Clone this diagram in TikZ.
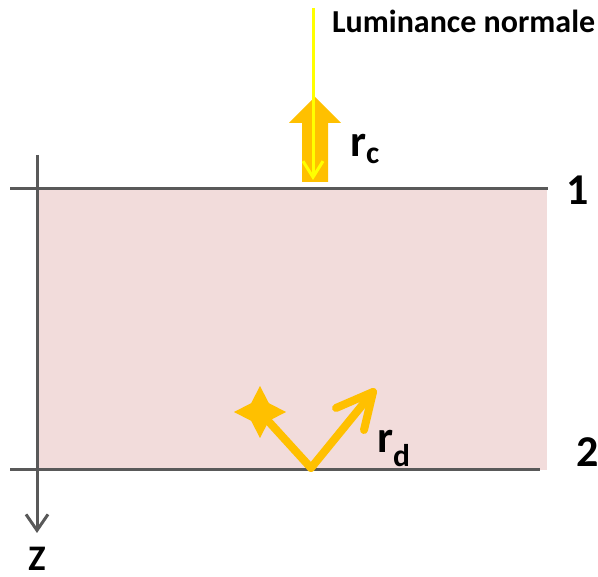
\documentclass[tikz,border=0pt]{standalone}
\usepackage{fontspec}
\setmainfont{Carlito}
\usepackage{xcolor}
\usetikzlibrary{arrows.meta,positioning}

\definecolor{layerpink}{HTML}{F2DCDB}
\definecolor{linegray}{HTML}{595959}
\definecolor{rayorange}{HTML}{FFC000}
\definecolor{rayyellow}{HTML}{FFFF00}

\begin{document}
\begin{tikzpicture}[x=1pt, y=-1pt,
  every node/.style={font=\bfseries, inner sep=0pt},
  bound/.style={draw=linegray, line width=3pt},
  ray/.style={draw=rayorange, line width=8pt, line cap=round, line join=round},
  beam/.style={draw=rayyellow, line width=3pt, -{Straight Barb[length=16pt, width=20pt, line width=3pt]}}
]
  \useasboundingbox (0,0) rectangle (598,577);

  % layer between interfaces 1 and 2
  \fill[layerpink] (38,189) rectangle (547,470);
  \coordinate (top-l) at (10,189);
  \coordinate (top-r) at (548,189);
  \coordinate (bot-l) at (10,470);
  \coordinate (bot-r) at (540,470);
  \draw[bound] (top-l) -- (top-r);
  \draw[bound] (bot-l) -- (bot-r);
  \node[font=\bfseries\fontsize{44}{44}\selectfont] (one) at (578,190) {1};
  \node[font=\bfseries\fontsize{44}{44}\selectfont] (two) at (588,452) {2};

  % depth axis
  \coordinate (z-top) at (37,155);
  \coordinate (z-end) at (37,533);
  \draw[bound, -{Straight Barb[length=16pt, width=22pt, line width=3pt]}] (z-top) -- (z-end);
  \node[font=\bfseries\fontsize{36}{36}\selectfont] (zlabel) at (37,559) {Z};

  % specular part r_c
  \fill[rayorange] (302,182) -- (302,123) -- (289,123) -- (315,97)
    -- (341,123) -- (328,123) -- (328,182) -- cycle;
  \node[font=\bfseries\fontsize{45}{45}\selectfont, anchor=base west] (rc) at (350,157) {r\textsubscript{c}};

  % incident light
  \coordinate (sun) at (313,8);
  \coordinate (hit) at (313,180);
  \draw[beam] (sun) -- (hit);
  \node[font=\bfseries\fontsize{32}{32}\selectfont, anchor=base west] (lum) at (332,33) {Luminance normale};

  % diffuse part r_d
  \coordinate (v) at (311,468);
  \coordinate (glint) at (260,412);
  \fill[rayorange] ([shift={(0:26)}]glint) -- ([shift={(45:12.5)}]glint)
    -- ([shift={(90:26)}]glint) -- ([shift={(135:12.5)}]glint)
    -- ([shift={(180:26)}]glint) -- ([shift={(225:12.5)}]glint)
    -- ([shift={(270:26)}]glint) -- ([shift={(315:12.5)}]glint) -- cycle;
  \coordinate (tip) at (373,392);
  \coordinate (arm-a) at (336,408);
  \coordinate (arm-b) at (364,430);
  \draw[ray] (v) -- (glint);
  \draw[ray] (v) -- (tip);
  \draw[ray] (arm-a) -- (tip) -- (arm-b);
  \node[font=\bfseries\fontsize{45}{45}\selectfont, anchor=base west] (rd) at (377,453) {r\textsubscript{d}};
\end{tikzpicture}
\end{document}
